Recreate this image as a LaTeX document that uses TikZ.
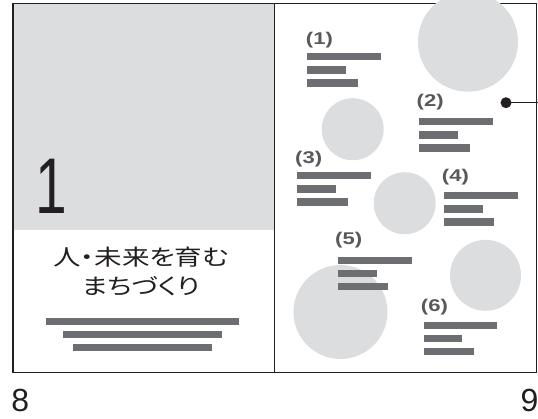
\documentclass[tikz,border=0pt]{standalone}
\usepackage{fontspec}
\setmainfont{Liberation Sans}
\newfontfamily\jpfont{Noto Sans CJK JP}[RawFeature=+palt]
\definecolor{pagegray}{HTML}{DCDDDF}
\definecolor{bargray}{HTML}{6D6E71}
\definecolor{labgray}{HTML}{58595B}
\definecolor{frameblack}{HTML}{231F20}
\tikzset{
  framestyle/.style={draw=frameblack, line width=1.3pt},
  textbar/.style={fill=bargray, draw=none},
  blob/.style={fill=pagegray, draw=none},
  numlabel/.style={anchor=base west, inner sep=0pt, text=labgray, font=\fontsize{17}{17}\selectfont\bfseries},
  pagenum/.style={inner sep=0pt, text=frameblack, font=\fontsize{32}{32}\selectfont},
}
\newcommand\bargrp[2]{%
  \fill[textbar] (#1,#2) rectangle ++(73.7,7.2);
  \fill[textbar] (#1,#2+13.2) rectangle ++(38.7,7.2);
  \fill[textbar] (#1,#2+26.2) rectangle ++(50.4,7.2);
}
\newcommand\widelab[1]{\scalebox{1.3}[1]{#1}}
\newcommand\widejp[1]{\scalebox{1.25}[1]{#1}}
\begin{document}
\begin{tikzpicture}[x=1pt,y=-1pt]
\useasboundingbox (0,0) rectangle (538,419);
\clip (0,0) rectangle (538,419);
% left page
\fill[pagegray] (13,3.3) rectangle (274.5,230);
\draw[framestyle] (13,3.3) rectangle (536.7,372.7);
\draw[framestyle] (274.5,3.3) -- (274.5,372.7);
\node[anchor=base west, inner sep=0pt, text=frameblack, font=\fontsize{79}{79}\selectfont] (bignum) at (35.5,214) {\scalebox{0.72}[1]{1}};
\node[inner sep=0pt, text=frameblack, font=\jpfont\fontsize{22}{28.5}\selectfont, align=center] (title) at (141,271.5) {\widejp{人・未来を育む}\\\widejp{まちづくり}};
\fill[textbar] (46,318) rectangle (239,325.2);
\fill[textbar] (63,331.2) rectangle (222,338.4);
\fill[textbar] (73,344.2) rectangle (212,351.4);
% right page circles
\fill[blob] (468,41.7) circle (50);
\fill[blob] (352.7,129.2) circle (31);
\fill[blob] (404.7,203.2) circle (31);
\fill[blob] (340.5,312) circle (47);
\fill[blob] (485.5,275.3) circle (35.5);
% bar groups
\bargrp{307.3}{53.3}
\bargrp{419.3}{118.3}
\bargrp{297.3}{172.3}
\bargrp{444}{192.3}
\bargrp{338}{256.7}
\bargrp{423.7}{321.7}
% labels
\node[numlabel] (l1) at (305.7,45) {\widelab{(1)}};
\node[numlabel] (l2) at (416.5,107) {\widelab{(2)}};
\node[numlabel] (l3) at (295,163.4) {\widelab{(3)}};
\node[numlabel] (l4) at (441.7,181.4) {\widelab{(4)}};
\node[numlabel] (l5) at (335,245) {\widelab{(5)}};
\node[numlabel] (l6) at (420.7,311.4) {\widelab{(6)}};
% pointer
\node[circle, fill=frameblack, inner sep=0pt, minimum size=11pt] (dot) at (506,102.7) {};
\coordinate (edge) at (538,102.7);
\draw[frameblack, line width=1pt] (dot.center) -- (edge);
% page numbers
\node[pagenum, anchor=base west] (p8) at (11.3,411) {8};
\node[pagenum, anchor=base east] (p9) at (538.5,411) {9};
\end{tikzpicture}
\end{document}
